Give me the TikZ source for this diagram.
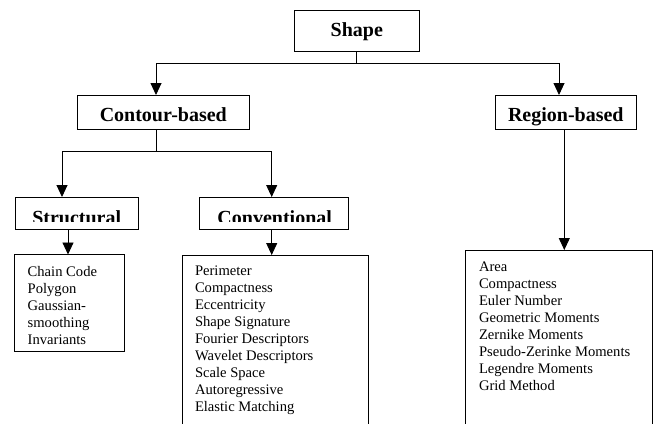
\documentclass[tikz,border=0pt]{standalone}
\usepackage{fontspec}
\setmainfont{Liberation Serif}
\usetikzlibrary{arrows.meta}
\begin{document}
\begin{tikzpicture}[x=1pt,y=-1pt,
  every node/.style={inner sep=0pt, outer sep=0pt},
  box/.style={draw, line width=0.9pt},
  head/.style={font=\bfseries\fontsize{20}{24}\selectfont},
  listtext/.style={anchor=base west, font=\fontsize{14.6}{17}\selectfont},
  arr/.style={line width=0.9pt, -{Triangle[width=11pt,length=12pt]}},
  ln/.style={line width=0.9pt}]
\useasboundingbox (0,0) rectangle (653,423);

% level 0/1 boxes
\node[box, head, minimum width=125pt, minimum height=40.7pt, text height=14pt, text depth=3.3pt] (shape) at (356.8,30.65) {Shape};
\node[box, head, minimum width=172pt, minimum height=34pt, text height=20pt, text depth=2pt] (contour) at (163.3,112) {Contour-based};
\node[box, head, minimum width=141.7pt, minimum height=34pt, text height=20pt, text depth=2pt] (region) at (565.8,112) {Region-based};

% level 2 boxes (text clipped at bottom as in the reference)
\node[box, minimum width=122.6pt, minimum height=32pt] (struct) at (77,213) {};
\node[box, minimum width=149pt, minimum height=32pt] (conv) at (273.8,213) {};
\begin{scope}
  \clip (16,198) rectangle (138,221.7);
  \node[head, anchor=base] (structtext) at (76.7,224.5) {Structural};
\end{scope}
\begin{scope}
  \clip (200,198) rectangle (348,221.7);
  \node[head, anchor=base] (convtext) at (274.7,224.5) {Conventional};
\end{scope}

% list boxes
\node[box, minimum width=110pt, minimum height=97.2pt] (slist) at (69.3,303.1) {};
\node[box, minimum width=186pt, minimum height=185pt] (clist) at (275.3,347.5) {};
\node[box, minimum width=186.6pt, minimum height=190pt] (rlist) at (559,345) {};

\node[listtext] (stext) at (27.7,276) {\parbox[t]{8cm}{\setlength{\baselineskip}{17pt}Chain Code\\Polygon\\Gaussian-\\smoothing\\Invariants}};
\node[listtext] (ctext) at (195,275) {\parbox[t]{8cm}{\setlength{\baselineskip}{17.1pt}Perimeter\\Compactness\\Eccentricity\\Shape Signature\\Fourier Descriptors\\Wavelet Descriptors\\Scale Space\\Autoregressive\\Elastic Matching}};
\node[listtext] (rtext) at (479,271) {\parbox[t]{8cm}{\setlength{\baselineskip}{17.05pt}Area\\Compactness\\Euler Number\\Geometric Moments\\Zernike Moments\\Pseudo-Zerinke Moments\\Legendre Moments\\Grid Method}};

% connectors
\draw[arr] (shape.south) -- ++(0,12.5) -| ([xshift=-7.3pt]contour.north);
\draw[arr] (shape.south) -- ++(0,12.5) -| ([xshift=-6.8pt]region.north);
\draw[arr] ([xshift=-6.6pt]contour.south) -- ++(0,22) -| ([xshift=-15pt]struct.north);
\draw[arr] ([xshift=-6.6pt]contour.south) -- ++(0,22) -| ([xshift=-2.1pt]conv.north);
\draw[arr] ([xshift=-9pt]struct.south) -- ([xshift=-9pt]struct.south |- slist.north);
\draw[arr] ([xshift=-2.1pt]conv.south) -- ([xshift=-2.1pt]conv.south |- clist.north);
\draw[arr] ([xshift=-1.5pt]region.south) -- ([xshift=-1.5pt]region.south |- rlist.north);
\end{tikzpicture}
\end{document}
